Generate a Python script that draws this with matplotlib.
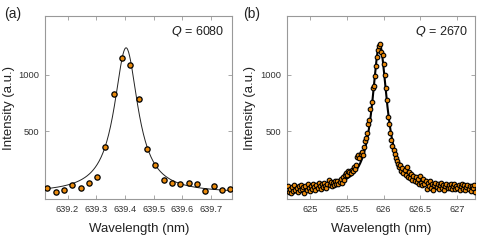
import numpy as np
import matplotlib.pyplot as plt

plt.rcParams['font.family'] = ['Liberation Sans', 'DejaVu Sans']

# (a) measured spectrum
wl_a = [639.130, 639.159, 639.188, 639.217, 639.246, 639.275, 639.304, 639.332,
        639.361, 639.390, 639.419, 639.448, 639.477, 639.506, 639.535, 639.564,
        639.593, 639.622, 639.651, 639.680, 639.709, 639.738, 639.767]
int_a = [0, -39, -24, 27, -3, 41, 94, 358, 829, 1146, 1086, 787, 346, 204, 71,
         41, 35, 38, 35, -27, 12, -21, -12]
# Lorentzian fit parameters (a): center, FWHM, amplitude, offset
fit_a = dict(x0=639.404, fwhm=0.100, amp=1290, off=-50)
q_a = 6080

# (b) measured spectrum
wl_b = [624.695, 624.710, 624.725, 624.740, 624.755, 624.770, 624.785, 624.800, 624.815, 624.830,
        624.845, 624.860, 624.875, 624.890, 624.905, 624.920, 624.935, 624.950, 624.965, 624.980,
        624.995, 625.010, 625.025, 625.040, 625.055, 625.070, 625.085, 625.100, 625.115, 625.130,
        625.145, 625.160, 625.175, 625.190, 625.205, 625.220, 625.235, 625.250, 625.265, 625.280,
        625.295, 625.310, 625.325, 625.340, 625.355, 625.370, 625.385, 625.400, 625.415, 625.430,
        625.445, 625.460, 625.475, 625.490, 625.505, 625.520, 625.535, 625.550, 625.565, 625.580,
        625.595, 625.610, 625.625, 625.640, 625.655, 625.670, 625.685, 625.700, 625.715, 625.730,
        625.745, 625.760, 625.775, 625.790, 625.805, 625.820, 625.835, 625.850, 625.865, 625.880,
        625.895, 625.910, 625.925, 625.940, 625.955, 625.970, 625.985, 626.000, 626.015, 626.030,
        626.045, 626.060, 626.075, 626.090, 626.105, 626.120, 626.135, 626.150, 626.165, 626.180,
        626.195, 626.210, 626.225, 626.240, 626.255, 626.270, 626.285, 626.300, 626.315, 626.330,
        626.345, 626.360, 626.375, 626.390, 626.405, 626.420, 626.435, 626.450, 626.465, 626.480,
        626.495, 626.510, 626.525, 626.540, 626.555, 626.570, 626.585, 626.600, 626.615, 626.630,
        626.645, 626.660, 626.675, 626.690, 626.705, 626.720, 626.735, 626.750, 626.765, 626.780,
        626.795, 626.810, 626.825, 626.840, 626.855, 626.870, 626.885, 626.900, 626.915, 626.930,
        626.945, 626.960, 626.975, 626.990, 627.005, 627.020, 627.035, 627.050, 627.065, 627.080,
        627.095, 627.110, 627.125, 627.140, 627.155, 627.170, 627.185, 627.200, 627.215, 627.230,
        627.245]
int_b = [10, -35, -15, -50, 5, -30, 20, -20, -5, -40,
         15, -25, 25, -10, 5, -45, 10, -20, 30, 0,
         -30, 15, -10, 35, 5, -20, 25, 0, 40, 10,
         -15, 30, 5, 45, 15, -5, 35, 70, 20, 50,
         10, 40, 25, 55, 30, 60, 35, 50, 75, 45,
         90, 70, 110, 130, 115, 150, 135, 125, 160, 145,
         180, 165, 200, 270, 290, 260, 300, 320, 290, 360,
         410, 440, 480, 560, 600, 700, 760, 880, 900, 990,
         1080, 1160, 1220, 1260, 1270, 1200, 1180, 1100, 1000, 880,
         780, 630, 560, 480, 420, 370, 330, 300, 260, 240,
         210, 180, 200, 150, 170, 130, 160, 110, 180, 95,
         140, 85, 120, 70, 105, 60, 90, 50, 80, 30,
         100, 45, 20, 75, 35, 60, -15, 40, 15, 55,
         0, 30, -20, 25, 45, 5, 30, -10, 20, 40,
         0, 25, -25, 15, 35, -5, 20, 0, 30, -15,
         10, 35, -10, 15, -5, 25, -20, 10, 30, -10,
         20, -25, 5, 25, -15, 15, -30, 10, -5, 20,
         -40]
fit_b = dict(x0=625.945, fwhm=0.245, amp=1280, off=-10)
q_b = 2670

orange = '#E8890C'
gray = '#999999'


def lorentz(x, x0, fwhm, amp, off):
    return off + amp / (1 + (2 * (x - x0) / fwhm) ** 2)


fig = plt.figure(figsize=(4.85, 2.42), dpi=100)
ax_a = fig.add_axes([0.0934, 0.1764, 0.3856, 0.7574])
ax_b = fig.add_axes([0.5911, 0.1764, 0.3893, 0.7574])

xa = np.linspace(639.12, 639.78, 400)
ax_a.plot(xa, lorentz(xa, **fit_a), color='#222222', lw=0.7, zorder=2)
ax_a.plot(wl_a, int_a, 'o', ms=3.8, mfc=orange, mec='black', mew=0.9, zorder=3)
ax_a.set_xlim(639.1226, 639.774)
ax_a.set_xticks([639.2, 639.3, 639.4, 639.5, 639.6, 639.7])

xb = np.linspace(624.6, 627.3, 600)
ax_b.plot(xb, lorentz(xb, **fit_b), color='black', lw=1.5, zorder=2)
ax_b.plot(wl_b, int_b, 'o', ms=3.3, mfc=orange, mec='black', mew=0.8, zorder=3)
ax_b.set_xlim(624.68, 627.25)
ax_b.set_xticks([625, 625.5, 626, 626.5, 627])
ax_b.set_xticklabels(['625', '625.5', '626', '626.5', '627'])

for ax, lab, xl, q in [(ax_a, '(a)', 4 / 485, q_a), (ax_b, '(b)', 243 / 485, q_b)]:
    ax.set_ylim(-104, 1522)
    ax.set_yticks([500, 1000])
    for s in ax.spines.values():
        s.set_color(gray)
        s.set_linewidth(0.8)
    ax.tick_params(direction='in', length=3, width=0.6, color=gray,
                   top=True, right=True, labelsize=6.7, labelcolor='#333333', pad=4)
    ax.set_xlabel('Wavelength (nm)', fontsize=9.5, color='#222222', labelpad=6.5)
    ax.set_ylabel('Intensity (a.u.)', fontsize=9.5, color='#222222', labelpad=3)
    ax.text(0.96, 0.92, f'$Q$ = {q}', transform=ax.transAxes, ha='right',
            va='center', fontsize=9, color='#222222')
    fig.text(xl, 0.942, lab, fontsize=10, color='#222222', va='center')

fig.savefig('out.png', dpi=100)
